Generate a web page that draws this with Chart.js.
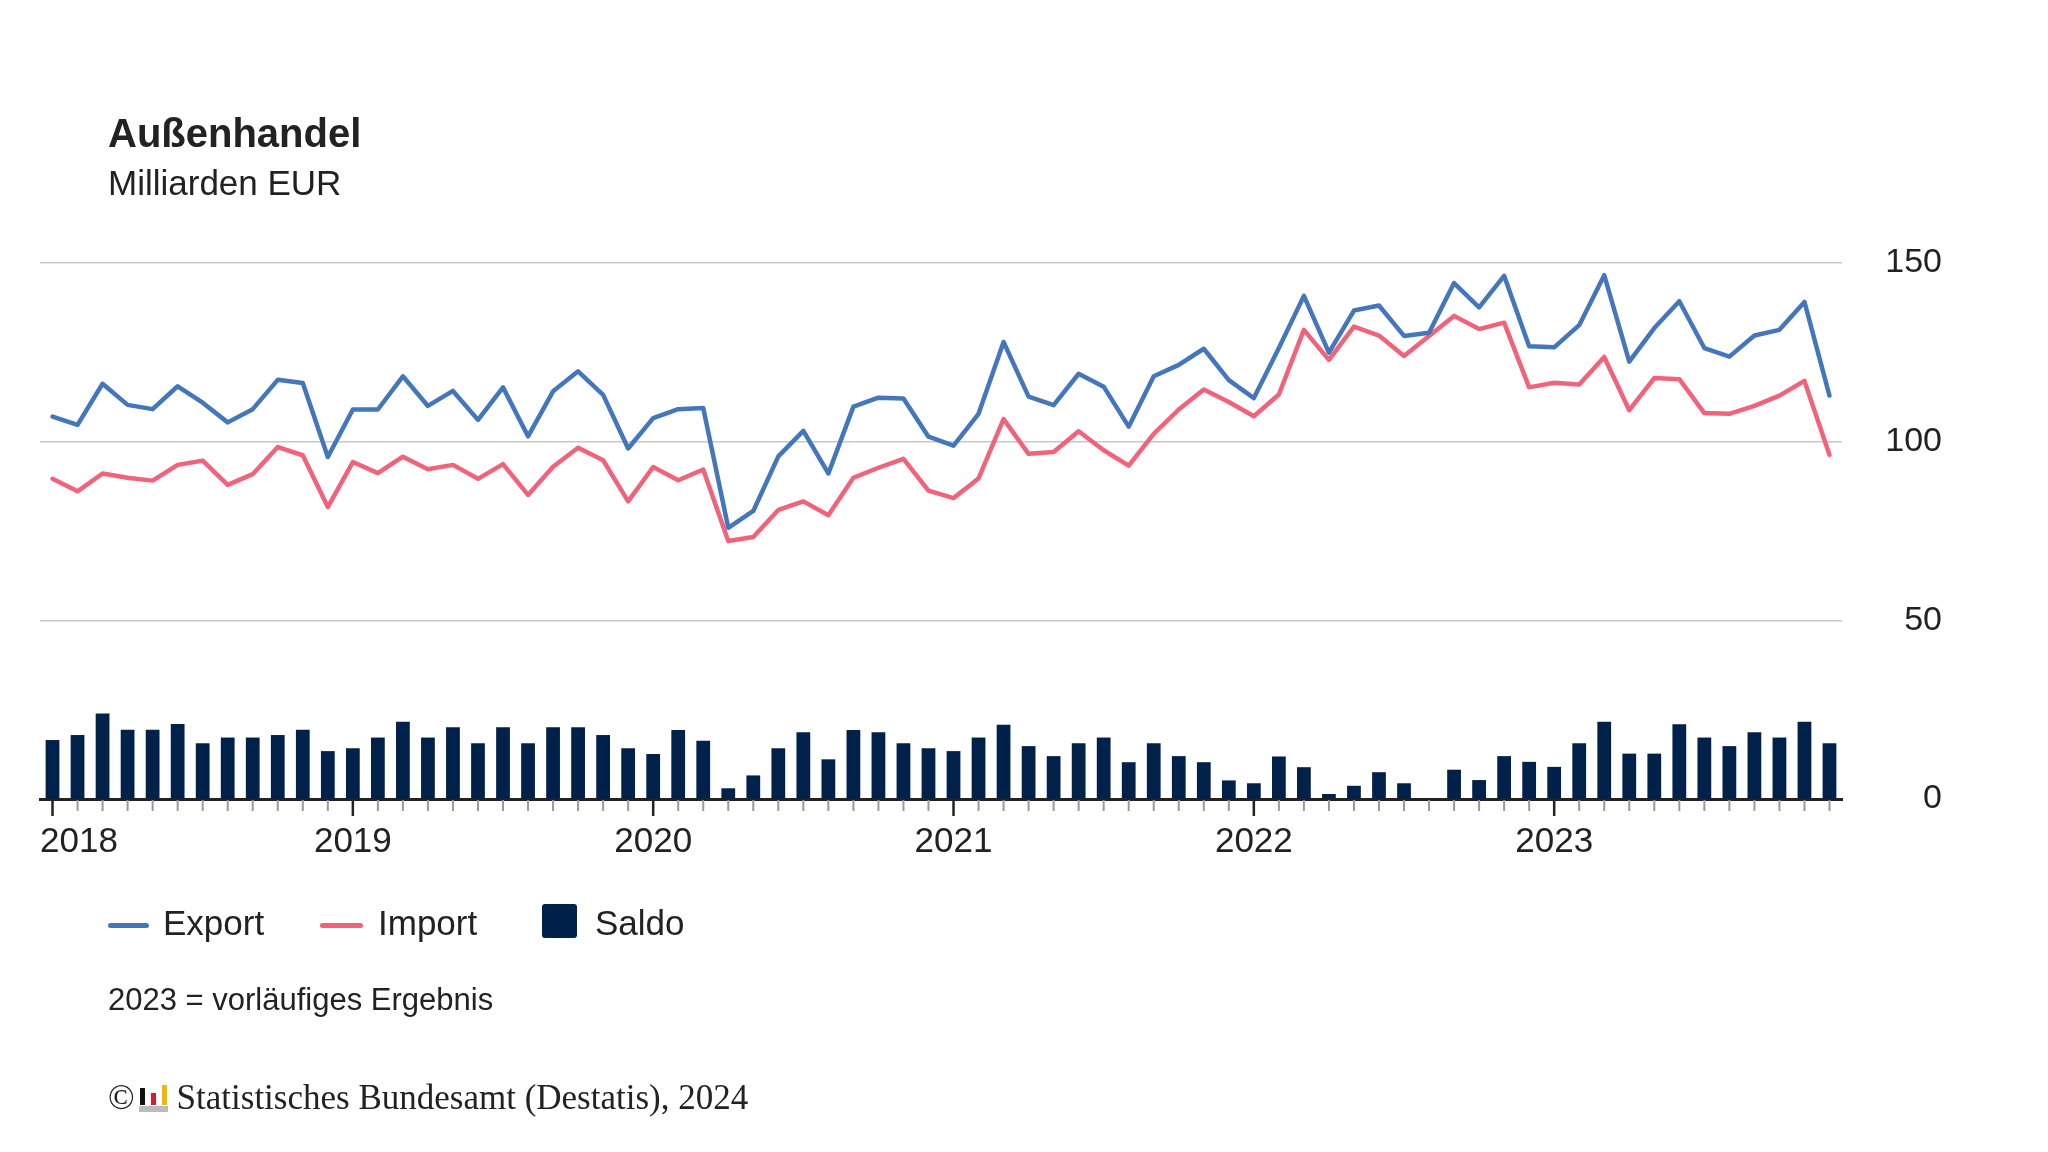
<!DOCTYPE html>
<html lang="de">
<head>
<meta charset="utf-8">
<title>Außenhandel</title>
<script src="https://cdn.jsdelivr.net/npm/chart.js@4/dist/chart.umd.min.js"></script>
<style>
  html, body { margin: 0; padding: 0; background: #fff; }
  body { width: 2048px; height: 1152px; position: relative; overflow: hidden;
         font-family: "Liberation Sans", Arial, sans-serif; color: #222; }
  #chart { position: absolute; left: 0; top: 0; }
  .txt { position: absolute; white-space: nowrap; line-height: 1; }
  .title { left: 108px; top: 113px; font-size: 40px; font-weight: bold; }
  .subtitle { left: 108px; top: 165px; font-size: 35px; }
  .leg-line { position: absolute; height: 5px; border-radius: 3px; top: 923px; }
  .leg-box { position: absolute; left: 542px; top: 904px; width: 35px; height: 34px; border-radius: 3px; background: #00214a; }
  .leg-txt { top: 905px; font-size: 35px; }
  .note { left: 108px; top: 984px; font-size: 31px; }
  .copy { left: 108px; top: 1080px; font-size: 35px; font-family: "Liberation Serif", "Times New Roman", serif; }
  .logo { display: inline-block; position: relative; width: 30px; height: 28px; margin: 0 8px 0 4px; vertical-align: -3px; }
  .logo span { position: absolute; bottom: 7px; width: 5px; }
</style>
</head>
<body>
<canvas id="chart" width="2048" height="1152"></canvas>

<div class="txt title">Außenhandel</div>
<div class="txt subtitle">Milliarden EUR</div>

<div class="leg-line" style="left:108px;width:41px;background:#4476bb;"></div>
<div class="txt leg-txt" style="left:163px;">Export</div>
<div class="leg-line" style="left:320px;width:43px;background:#f0637a;"></div>
<div class="txt leg-txt" style="left:378px;">Import</div>
<div class="leg-box"></div>
<div class="txt leg-txt" style="left:595px;">Saldo</div>

<div class="txt note">2023 = vorläufiges Ergebnis</div>
<div class="txt copy">©<span class="logo">
  <span style="left:1px;height:17px;background:#111;"></span>
  <span style="left:12px;height:12px;background:#d0202a;"></span>
  <span style="left:23px;height:20px;background:#f2b800;"></span>
  <span style="left:0;bottom:0;width:29px;height:6px;background:#bbb;"></span>
</span>Statistisches Bundesamt (Destatis), 2024</div>

<script>
// ---- Data (Mrd. EUR, monthly Jan 2018 - Dec 2023) ----
const years = ['2018', '2019', '2020', '2021', '2022', '2023'];
const monthLabels = years.flatMap(y => ['01','02','03','04','05','06','07','08','09','10','11','12'].map(m => y + '-' + m));

const exportValues = [
  107.0, 104.7, 116.2, 110.3, 109.1, 115.5, 110.9, 105.4, 109.1, 117.3, 116.4, 95.7,
  109.0, 109.0, 118.3, 110.0, 114.2, 106.1, 115.2, 101.5, 114.1, 119.7, 113.1, 98.1,
  106.6, 109.1, 109.4, 75.9, 80.6, 95.9, 103.0, 91.1, 109.8, 112.3, 112.1, 101.4,
  98.9, 107.8, 127.9, 112.6, 110.2, 119.0, 115.4, 104.2, 118.3, 121.5, 126.0, 117.2,
  112.2, 126.2, 140.8, 124.9, 136.7, 138.1, 129.6, 130.5, 144.4, 137.6, 146.4, 126.7,
  126.4, 132.6, 146.6, 122.4, 131.8, 139.3, 126.2, 123.8, 129.7, 131.3, 139.1, 112.9
];

const importValues = [
  89.6, 86.1, 91.1, 89.9, 89.1, 93.5, 94.7, 87.9, 90.9, 98.5, 96.2, 81.7,
  94.3, 91.2, 95.8, 92.3, 93.5, 89.6, 93.7, 85.1, 93.0, 98.3, 94.8, 83.3,
  92.9, 89.2, 92.2, 72.2, 73.3, 80.9, 83.3, 79.4, 89.9, 92.7, 95.2, 86.3,
  84.2, 89.7, 106.3, 96.6, 97.1, 102.9, 97.6, 93.3, 102.2, 109.0, 114.6, 111.1,
  107.1, 113.2, 131.3, 122.9, 132.2, 129.7, 124.0, 129.6, 135.2, 131.5, 133.3, 115.2,
  116.5, 116.0, 123.7, 108.8, 117.8, 117.5, 108.0, 107.8, 110.0, 112.9, 117.0, 96.3
];

const saldoValues = [
  16.5, 17.9, 23.9, 19.4, 19.4, 21.0, 15.6, 17.2, 17.2, 17.9, 19.4, 13.4,
  14.2, 17.2, 21.6, 17.2, 20.1, 15.6, 20.1, 15.6, 20.1, 20.1, 17.9, 14.2,
  12.6, 19.3, 16.3, 3.0, 6.6, 14.2, 18.7, 11.1, 19.3, 18.7, 15.6, 14.2,
  13.4, 17.2, 20.8, 14.8, 12.0, 15.6, 17.2, 10.3, 15.6, 12.0, 10.3, 5.2,
  4.4, 11.9, 8.9, 1.4, 3.7, 7.5, 4.4, 0, 8.2, 5.3, 12.0, 10.4,
  9.0, 15.6, 21.6, 12.7, 12.7, 20.9, 17.2, 14.8, 18.7, 17.2, 21.6, 15.6
];

const yTicks = [0, 50, 100, 150];

const FONT = '"Liberation Sans", Arial, sans-serif';

// ---- Month tick marks + year labels (first label kept inside the plot) ----
const monthAxis = {
  id: 'monthAxis',
  afterDraw(chart) {
    const xs = chart.scales.x;
    const ctx = chart.ctx;
    const area = chart.chartArea;
    const y0 = area.bottom;
    ctx.save();
    monthLabels.forEach((m, i) => {
      const x = xs.getPixelForValue(i);
      const major = i % 12 === 0;
      ctx.beginPath();
      ctx.strokeStyle = major ? '#222' : '#9a9a9a';
      ctx.lineWidth = major ? 2.5 : 2;
      ctx.moveTo(x, y0 + 1);
      ctx.lineTo(x, y0 + (major ? 17 : 12));
      ctx.stroke();
    });
    ctx.font = '35px ' + FONT;
    ctx.fillStyle = '#222';
    ctx.textBaseline = 'alphabetic';
    ctx.textAlign = 'left';
    years.forEach((y, k) => {
      const x = xs.getPixelForValue(k * 12);
      const w = ctx.measureText(y).width;
      const left = Math.max(area.left, x - w / 2);
      ctx.fillText(y, left, y0 + 53);
    });
    ctx.restore();
  }
};

new Chart(document.getElementById('chart'), {
  type: 'bar',
  data: {
    labels: monthLabels,
    datasets: [
      {
        type: 'line', label: 'Export', data: exportValues,
        borderColor: '#4476bb', borderWidth: 4.5, pointRadius: 0,
        borderJoinStyle: 'round', borderCapStyle: 'round', tension: 0
      },
      {
        type: 'line', label: 'Import', data: importValues,
        borderColor: '#f0637a', borderWidth: 4.5, pointRadius: 0,
        borderJoinStyle: 'round', borderCapStyle: 'round', tension: 0
      },
      {
        type: 'bar', label: 'Saldo', data: saldoValues,
        backgroundColor: '#00214a', barPercentage: 0.55, categoryPercentage: 1.0
      }
    ]
  },
  options: {
    responsive: false,
    devicePixelRatio: 1,
    animation: false,
    layout: { padding: { left: 40, top: 263, right: 106, bottom: 293 } },
    plugins: { legend: { display: false }, tooltip: { enabled: false } },
    scales: {
      x: {
        z: 1,
        grid: { display: false, drawTicks: false },
        border: { display: true, color: '#222', width: 3 },
        afterFit(scale) { scale.height = 60; },
        ticks: { display: false, autoSkip: false }
      },
      y: {
        position: 'right',
        min: 0, max: 150,
        afterBuildTicks(scale) { scale.ticks = yTicks.map(v => ({ value: v })); },
        afterFit(scale) { scale.width = 100; },
        grid: { color: '#c8c8c8', lineWidth: 1.5, drawTicks: false },
        border: { display: false },
        ticks: {
          crossAlign: 'far', padding: 43,
          color: '#222', font: { size: 34, family: FONT }
        }
      }
    }
  },
  plugins: [monthAxis]
});
</script>
</body>
</html>
